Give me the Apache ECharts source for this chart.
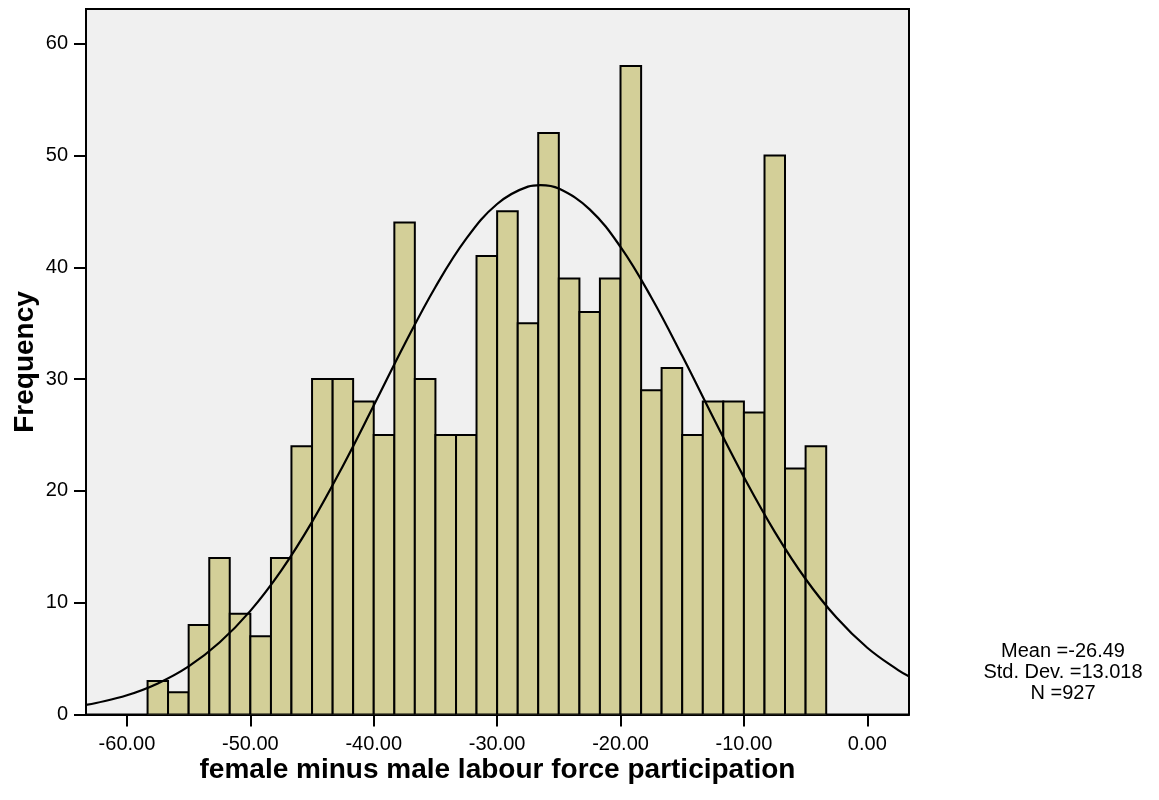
<!DOCTYPE html>
<html>
<head>
<meta charset="utf-8">
<script src="https://cdn.jsdelivr.net/npm/echarts@6/dist/echarts.min.js"></script>
<style>
html,body{margin:0;padding:0;background:#fff;}
#chart{width:1159px;height:800px;}
</style>
</head>
<body>
<div id="chart"></div>
<script>
// Histogram bin edges (34 edges -> 33 bins)
const binEdges = [-58.33, -56.67, -55.00, -53.33, -51.67, -50.00, -48.33, -46.67, -45.00, -43.33,
  -41.67, -40.00, -38.33, -36.67, -35.00, -33.33, -31.67, -30.00, -28.33, -26.67,
  -25.00, -23.33, -21.67, -20.00, -18.33, -16.67, -15.00, -13.33, -11.67, -10.00,
  -8.33, -6.67, -5.00, -3.33];
// Frequencies per bin
const counts = [3, 2, 8, 14, 9, 7, 14, 24, 30, 30,
  28, 25, 44, 30, 25, 25, 41, 45, 35, 52,
  39, 36, 39, 58, 29, 31, 25, 28, 28, 27,
  50, 22, 24];
// Normal curve
const curveX = [-63.33, -62.5, -60, -57.5, -55, -52.5, -50, -47.5, -45, -42.5, -40, -37.5, -35, -32.5, -30, -27.5, -26.49, -25, -22.5, -20, -17.5, -15, -12.5, -10, -7.5, -5, -2.5, 0, 2.5, 3.4];
const curveY = [0.86, 1.03, 1.72, 2.78, 4.30, 6.44, 9.27, 12.87, 17.23, 22.23, 27.63, 33.11, 38.24, 42.56, 45.66, 47.21, 47.35, 47.04, 45.18, 41.82, 37.30, 32.08, 26.58, 21.23, 16.34, 12.12, 8.67, 5.97, 3.97, 3.40];
const xTicks = [-60, -50, -40, -30, -20, -10, 0];
const yTicks = [0, 10, 20, 30, 40, 50, 60];
const statsLines = ['Mean =-26.49', 'Std. Dev. =13.018', 'N =927'];
const xTitle = 'female minus male labour force participation';
const yTitle = 'Frequency';

const barData = counts.map((c, i) => [binEdges[i], binEdges[i + 1], c]);
const curveData = curveX.map((x, i) => [x, curveY[i]]);

const FONT = 'Liberation Sans, Arial, Helvetica, sans-serif';
const chart = echarts.init(document.getElementById('chart'), null, {renderer: 'canvas'});
chart.setOption({
  animation: false,
  backgroundColor: '#ffffff',
  grid: {
    left: 86, right: 250, top: 9, bottom: 85.5,
    show: true, backgroundColor: '#F0F0F0', borderColor: '#000', borderWidth: 2
  },
  xAxis: {
    type: 'value', min: -63.32, max: 3.38,
    axisLine: {show: true, onZero: false, lineStyle: {color: '#000', width: 2}},
    axisTick: {show: true, inside: false, length: 12, lineStyle: {color: '#000', width: 2}, customValues: xTicks},
    axisLabel: {color: '#000', fontSize: 20, fontFamily: FONT, margin: 20, customValues: xTicks,
      formatter: v => v.toFixed(2)},
    splitLine: {show: false}
  },
  yAxis: {
    type: 'value', min: 0, max: 63.1,
    axisLine: {show: true, onZero: false, lineStyle: {color: '#000', width: 2}},
    axisTick: {show: true, inside: false, length: 12, lineStyle: {color: '#000', width: 2}, customValues: yTicks},
    axisLabel: {color: '#000', fontSize: 20, fontFamily: FONT, margin: 18, customValues: yTicks},
    splitLine: {show: false}
  },
  series: [
    {
      type: 'custom',
      data: barData,
      clip: true,
      renderItem: function (params, api) {
        const p0 = api.coord([api.value(0), api.value(2)]);
        const p1 = api.coord([api.value(1), 0]);
        return {
          type: 'rect',
          shape: {x: p0[0], y: p0[1], width: p1[0] - p0[0], height: p1[1] - p0[1]},
          style: {fill: '#D3CF98', stroke: '#000', lineWidth: 2}
        };
      },
      encode: {x: [0, 1], y: 2},
      z: 2
    },
    {
      type: 'line',
      data: curveData,
      smooth: 0.4,
      showSymbol: false,
      clip: true,
      lineStyle: {color: '#000', width: 2.2},
      z: 3
    }
  ],
  graphic: [
    {
      type: 'text', x: 497.5, y: 770,
      style: {text: xTitle, font: 'bold 28px ' + FONT, fill: '#000', align: 'center', verticalAlign: 'middle'}
    },
    {
      type: 'text', x: 25, y: 362, rotation: Math.PI / 2,
      style: {text: yTitle, font: 'bold 28px ' + FONT, fill: '#000', align: 'center', verticalAlign: 'middle'}
    },
    {
      type: 'text', x: 1063, y: 672,
      style: {text: statsLines.join('\n'), font: '20px ' + FONT, lineHeight: 21, fill: '#000', align: 'center', verticalAlign: 'middle'}
    }
  ]
});
</script>
</body>
</html>
